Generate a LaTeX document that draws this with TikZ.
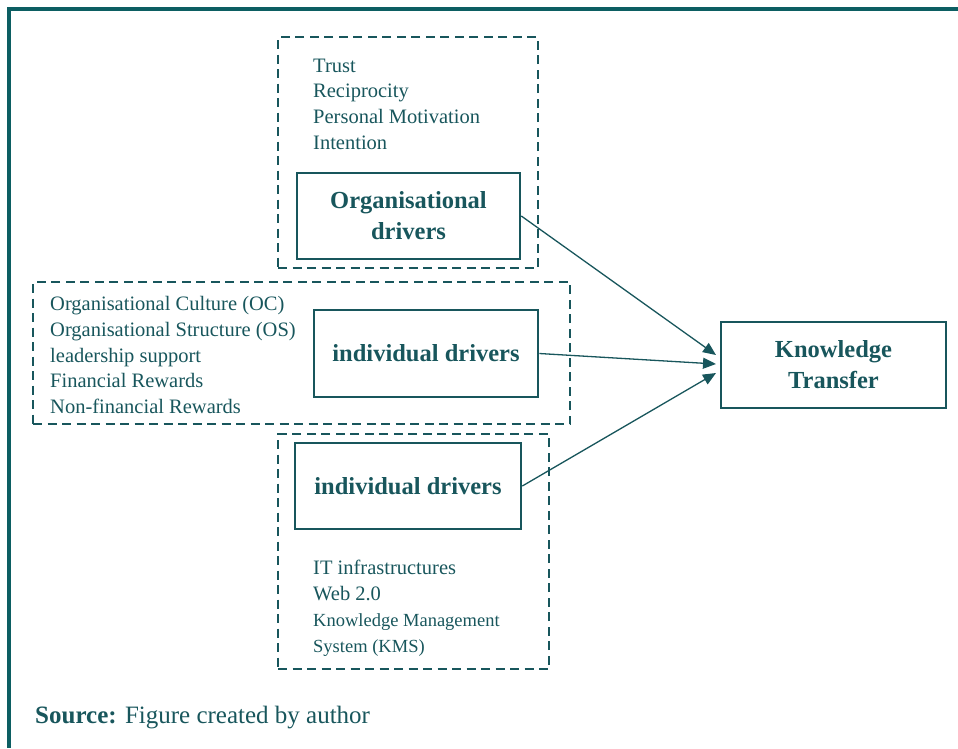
\documentclass[tikz,border=0pt]{standalone}
\usepackage{fontspec}
\setmainfont{Liberation Serif}
\usetikzlibrary{arrows.meta}
\definecolor{frameteal}{RGB}{12,94,98}
\definecolor{ink}{RGB}{24,86,92}
\begin{document}
\begin{tikzpicture}[x=1pt,y=-1pt,
  frameline/.style={draw=frameteal,line width=3.5pt},
  grp/.style={draw=ink,line width=2.4pt,dash pattern=on 9pt off 5.5pt,inner sep=0pt},
  driver/.style={draw=ink,line width=2.6pt,inner sep=0pt,align=center,text=ink,
    font=\fontsize{24.5}{31}\selectfont\bfseries},
  lst/.style={inner sep=0pt,align=left,anchor=north west,text=ink,
    font=\fontsize{20.5}{25.8}\selectfont},
  link/.style={draw=ink,line width=1.3pt,-{Triangle[length=13pt,width=11pt]}}]
\useasboundingbox (0,0) rectangle (958,748);
% outer frame (top and left)
\coordinate (f1) at (958,9);
\coordinate (f2) at (9,9);
\coordinate (f3) at (9,748);
\draw[frameline] (f1) -- (f2) -- (f3);
% dashed groups
\node[grp,minimum width=260pt,minimum height=231pt] (gtop) at (408,152.5) {};
\node[grp,minimum width=537pt,minimum height=142pt] (gmid) at (301.5,353) {};
\node[grp,minimum width=271pt,minimum height=235pt] (gbot) at (413.5,551.5) {};
% driver boxes
\node[driver,minimum width=223pt,minimum height=86pt] (org) at (408.5,216) {Organisational\\drivers};
\node[driver,minimum width=224pt,minimum height=87pt] (mid) at (426,353.5) {individual drivers};
\node[driver,minimum width=226pt,minimum height=86pt] (bot) at (408,486) {individual drivers};
\node[driver,minimum width=225pt,minimum height=86pt] (kt) at (833.5,365) {Knowledge\\Transfer};
% lists
\node[lst] (ltop) at (313,58.5) {Trust\\Reciprocity\\Personal Motivation\\Intention};
\node[lst] (lmid) at (50,296) {Organisational Culture (OC)\\Organisational Structure (OS)\\leadership support\\Financial Rewards\\Non-financial Rewards};
\node[lst] (lbot) at (313,560) {IT infrastructures\\Web 2.0\\{\fontsize{18.5}{25.3}\selectfont Knowledge Management}\\{\fontsize{18.5}{25.3}\selectfont System (KMS)}};
% arrows
\coordinate (t1) at (716,355);
\coordinate (t2) at (716,364);
\coordinate (t3) at (716,373);
\draw[link] (org.east) -- (t1);
\draw[link] (mid.east) -- (t2);
\draw[link] (bot.east) -- (t3);
% source
\node[anchor=base west,inner sep=0pt,text=ink,font=\fontsize{25}{30}\selectfont] (src) at (35,723) {\textbf{Source:} Figure created by author};
\end{tikzpicture}
\end{document}
